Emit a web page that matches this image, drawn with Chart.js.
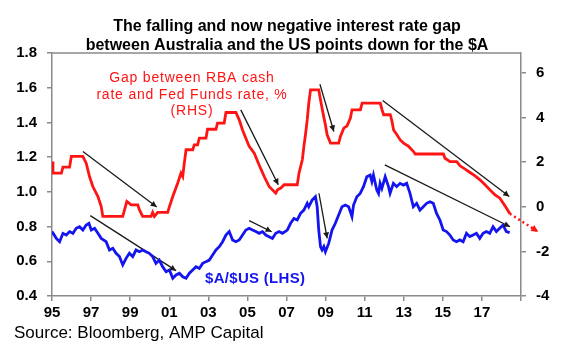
<!DOCTYPE html>
<html>
<head>
<meta charset="utf-8">
<script src="https://cdn.jsdelivr.net/npm/chart.js@4"></script>
<style>
  html, body { margin: 0; padding: 0; background: #fff; }
</style>
</head>
<body>
<canvas id="grafico" width="580" height="352"></canvas>
<script>
// Dados (ano decimal)
// Diferença entre a taxa do RBA e a Fed Funds, % (eixo da direita)
const anosGap = [1995.00, 1995.05, 1995.48, 1995.56, 1995.90, 1995.99, 1996.58, 1996.75, 1996.92, 1997.09,
  1997.35, 1997.52, 1997.60, 1998.62, 1998.83, 1999.05, 1999.39, 1999.47, 1999.64, 2000.07,
  2000.15, 2000.24, 2000.41, 2000.92, 2001.01, 2001.18, 2001.43, 2001.60, 2001.69, 2001.77,
  2001.86, 2002.20, 2002.28, 2002.45, 2002.54, 2002.88, 2002.96, 2003.39, 2003.47, 2003.81,
  2003.90, 2004.41, 2004.58, 2004.75, 2004.92, 2005.09, 2005.35, 2005.60, 2005.86, 2006.11,
  2006.45, 2006.54, 2006.71, 2006.88, 2007.55, 2007.64, 2007.81, 2007.89, 2007.98, 2008.06,
  2008.14, 2008.23, 2008.65, 2008.74, 2008.87, 2008.99, 2009.08, 2009.25, 2009.67, 2009.76,
  2009.93, 2010.10, 2010.27, 2010.35, 2010.78, 2010.87, 2011.80, 2011.89, 2011.97, 2012.31,
  2012.40, 2012.48, 2012.65, 2012.82, 2012.99, 2013.25, 2013.50, 2013.59, 2015.03, 2015.11,
  2015.37, 2015.71, 2015.88, 2016.14, 2016.39, 2016.65, 2016.90, 2017.16, 2017.41, 2017.67,
  2017.92, 2018.09, 2018.26, 2018.43];
const valoresGap = [2.03, 1.51, 1.51, 1.78, 1.78, 2.26, 2.26, 1.96, 1.36, 0.91,
  0.46, 0.01, -0.43, -0.43, 0.24, 0.09, 0.09, -0.13, -0.43, -0.43,
  -0.25, -0.43, -0.25, -0.25, 0.01, 0.46, 1.06, 1.51, 1.36, 1.96,
  2.56, 2.56, 2.78, 2.78, 3.08, 3.08, 3.48, 3.48, 3.75, 3.75,
  4.23, 4.23, 3.90, 3.45, 3.08, 2.71, 2.41, 1.88, 1.36, 0.91,
  0.61, 0.76, 0.84, 0.99, 0.99, 1.51, 2.11, 2.71, 3.30, 3.90,
  4.65, 5.25, 5.25, 4.80, 4.20, 3.68, 3.23, 2.86, 2.86, 3.16,
  3.53, 3.63, 3.98, 4.35, 4.35, 4.65, 4.65, 4.35, 4.13, 4.13,
  3.83, 3.45, 3.23, 3.00, 2.86, 2.71, 2.48, 2.37, 2.37, 2.18,
  2.03, 2.03, 1.84, 1.69, 1.54, 1.39, 1.21, 0.99, 0.76, 0.54,
  0.39, 0.16, -0.06, -0.31];
// projeção pontilhada no fim da série
const anosProjecao = [2018.43, 2019.88];
const valoresProjecao = [-0.31, -1.12];

// $A/$US (eixo da esquerda)
const anosAud = [1995.00, 1995.22, 1995.39, 1995.56, 1995.73, 1995.90, 1996.07, 1996.24, 1996.41, 1996.58,
  1996.75, 1996.89, 1997.01, 1997.18, 1997.35, 1997.52, 1997.77, 1997.94, 1998.11, 1998.28,
  1998.45, 1998.62, 1998.79, 1998.96, 1999.13, 1999.30, 1999.47, 1999.64, 1999.81, 1999.98,
  2000.15, 2000.32, 2000.49, 2000.66, 2000.84, 2001.01, 2001.18, 2001.35, 2001.52, 2001.69,
  2001.86, 2002.03, 2002.20, 2002.37, 2002.54, 2002.71, 2002.88, 2003.05, 2003.22, 2003.39,
  2003.56, 2003.73, 2003.90, 2004.07, 2004.24, 2004.41, 2004.58, 2004.75, 2004.92, 2005.09,
  2005.26, 2005.43, 2005.60, 2005.77, 2005.94, 2006.11, 2006.28, 2006.45, 2006.62, 2006.79,
  2007.04, 2007.21, 2007.38, 2007.55, 2007.72, 2007.89, 2008.06, 2008.14, 2008.31, 2008.48,
  2008.57, 2008.65, 2008.74, 2008.82, 2008.91, 2008.99, 2009.16, 2009.33, 2009.50, 2009.67,
  2009.84, 2010.01, 2010.18, 2010.35, 2010.43, 2010.60, 2010.77, 2010.94, 2011.11, 2011.28,
  2011.37, 2011.45, 2011.62, 2011.71, 2011.79, 2011.88, 2012.05, 2012.22, 2012.30, 2012.47,
  2012.64, 2012.81, 2012.98, 2013.15, 2013.32, 2013.49, 2013.66, 2013.83, 2014.00, 2014.17,
  2014.34, 2014.51, 2014.68, 2014.85, 2015.02, 2015.19, 2015.36, 2015.53, 2015.70, 2015.87,
  2016.04, 2016.21, 2016.38, 2016.55, 2016.72, 2016.89, 2017.06, 2017.23, 2017.40, 2017.57,
  2017.74, 2017.91, 2018.08, 2018.25, 2018.42];
const valoresAud = [0.771, 0.732, 0.713, 0.761, 0.751, 0.771, 0.761, 0.790, 0.799, 0.780,
  0.809, 0.819, 0.780, 0.790, 0.761, 0.732, 0.713, 0.665, 0.675, 0.646,
  0.627, 0.579, 0.617, 0.646, 0.627, 0.665, 0.655, 0.665, 0.655, 0.646,
  0.627, 0.588, 0.607, 0.569, 0.540, 0.550, 0.502, 0.521, 0.531, 0.511,
  0.502, 0.531, 0.550, 0.569, 0.559, 0.588, 0.598, 0.607, 0.636, 0.665,
  0.684, 0.713, 0.751, 0.771, 0.723, 0.713, 0.723, 0.751, 0.780, 0.790,
  0.780, 0.771, 0.761, 0.771, 0.751, 0.742, 0.732, 0.761, 0.771, 0.761,
  0.780, 0.819, 0.847, 0.838, 0.876, 0.895, 0.934, 0.914, 0.953, 0.972,
  0.914, 0.780, 0.684, 0.665, 0.684, 0.655, 0.703, 0.780, 0.819, 0.867,
  0.914, 0.924, 0.914, 0.857, 0.924, 0.972, 0.991, 1.030, 1.087, 1.097,
  1.059, 1.097, 1.011, 0.991, 1.049, 1.020, 1.087, 1.030, 0.991, 1.049,
  1.030, 1.049, 1.039, 1.049, 0.991, 0.914, 0.934, 0.895, 0.914, 0.934,
  0.943, 0.934, 0.876, 0.838, 0.780, 0.771, 0.751, 0.723, 0.713, 0.723,
  0.713, 0.761, 0.742, 0.751, 0.761, 0.732, 0.761, 0.771, 0.761, 0.799,
  0.771, 0.790, 0.809, 0.771, 0.765];

// Setas pretas: [ano inicial, valor inicial, ano final, valor final]
const setasGap = [[1996.58, 2.48, 2000.36, -0.01], [2004.66, 4.35, 2006.58, 0.99],
  [2008.71, 5.50, 2009.42, 3.38], [2011.92, 4.77, 2018.40, 0.46]];
const setasAud = [[1996.96, 0.863, 2001.35, 0.546], [2005.09, 0.834, 2006.24, 0.770],
  [2008.66, 0.992, 2009.08, 0.732], [2012.03, 1.155, 2018.44, 0.799]];

// Textos
const titulo = ['The falling and now negative interest rate gap', 'between Australia and the US points down for the $A'];
const rotuloGap = ['Gap between RBA cash', 'rate and Fed Funds rate, %', '(RHS)'];
const rotuloAud = '$A/$US (LHS)';
const fonte = 'Source: Bloomberg, AMP Capital';
const ticksAnos = [1995, 1997, 1999, 2001, 2003, 2005, 2007, 2009, 2011, 2013, 2015, 2017];

const FAMILIA = '"Liberation Sans", Arial, sans-serif';
const CINZA = '#8a8a8a';

function pares(xs, ys) {
  return xs.map((x, i) => ({ x: x, y: ys[i] }));
}

// Conjuntos de dados das setas
let datasetsSetas = [];
setasGap.forEach(s => datasetsSetas.push({
  data: [{ x: s[0], y: s[1] }, { x: s[2], y: s[3] }],
  yAxisID: 'y2', borderColor: '#1a1a1a', borderWidth: 1.3, pointRadius: 0, seta: 6
}));
setasAud.forEach(s => datasetsSetas.push({
  data: [{ x: s[0], y: s[1] }, { x: s[2], y: s[3] }],
  yAxisID: 'y', borderColor: '#1a1a1a', borderWidth: 1.3, pointRadius: 0, seta: 6
}));

// Plugin das pontas de seta
const pontasPlugin = {
  id: 'pontas',
  afterDatasetsDraw(chart) {
    const ctx = chart.ctx;
    chart.data.datasets.forEach((ds, i) => {
      if (!ds.seta) return;
      const pts = chart.getDatasetMeta(i).data;
      const a = pts[pts.length - 2], b = pts[pts.length - 1];
      const ang = Math.atan2(b.y - a.y, b.x - a.x);
      ctx.save();
      ctx.fillStyle = ds.borderColor;
      ctx.translate(b.x, b.y);
      ctx.rotate(ang);
      ctx.beginPath();
      ctx.moveTo(0, 0);
      ctx.lineTo(-ds.seta, -ds.seta * 0.5);
      ctx.lineTo(-ds.seta, ds.seta * 0.5);
      ctx.closePath();
      ctx.fill();
      ctx.restore();
    });
  }
};

// Plugin dos textos e da borda superior
const textosPlugin = {
  id: 'textos',
  afterDraw(chart) {
    const ctx = chart.ctx;
    const area = chart.chartArea;
    ctx.save();
    ctx.strokeStyle = CINZA;
    ctx.lineWidth = 1.5;
    ctx.beginPath();
    ctx.moveTo(area.left, area.top);
    ctx.lineTo(area.right, area.top);
    ctx.stroke();

    ctx.textBaseline = 'middle';
    ctx.fillStyle = '#000';
    ctx.textAlign = 'center';
    ctx.font = 'bold 16px ' + FAMILIA;
    ctx.fillText(titulo[0], 287, 27);
    ctx.fillText(titulo[1], 287, 46);

    ctx.fillStyle = '#ff1414';
    ctx.font = '14px ' + FAMILIA;
    ctx.letterSpacing = '0.8px';
    ctx.fillText(rotuloGap[0], 192, 78);
    ctx.fillText(rotuloGap[1], 192, 95);
    ctx.fillText(rotuloGap[2], 192, 111);

    ctx.letterSpacing = '0.3px';
    ctx.textAlign = 'left';
    ctx.fillStyle = '#1414f0';
    ctx.font = 'bold 15px ' + FAMILIA;
    ctx.fillText(rotuloAud, 205, 279);

    ctx.letterSpacing = '0px';
    ctx.fillStyle = '#000';
    ctx.font = '17px ' + FAMILIA;
    ctx.fillText(fonte, 14, 333);
    ctx.restore();
  }
};

const fonteTicks = { family: FAMILIA, size: 15, weight: 'bold' };

const config = {
  type: 'line',
  data: {
    datasets: [
      {
        data: pares(anosAud, valoresAud), yAxisID: 'y',
        borderColor: '#1414f0', borderWidth: 2.8, pointRadius: 0, tension: 0
      },
      {
        data: pares(anosGap, valoresGap), yAxisID: 'y2',
        borderColor: '#ff1414', borderWidth: 2.8, pointRadius: 0, tension: 0
      },
      {
        data: pares(anosProjecao, valoresProjecao), yAxisID: 'y2',
        borderColor: '#ff1414', borderWidth: 2.5, borderDash: [2, 3], pointRadius: 0,
        clip: false, seta: 7
      }
    ].concat(datasetsSetas)
  },
  options: {
    responsive: false,
    animation: false,
    layout: { padding: { top: 53, left: 0, right: 0, bottom: 26 } },
    plugins: { legend: { display: false }, tooltip: { enabled: false }, title: { display: false } },
    scales: {
      x: {
        type: 'linear', min: 1995, max: 2019,
        afterFit: s => { s.height = 30; },
        afterBuildTicks: s => { s.ticks = ticksAnos.concat([2019]).map(v => ({ value: v })); },
        border: { display: true, color: CINZA, width: 1.5 },
        grid: { drawOnChartArea: false, drawTicks: true, tickLength: 5, color: CINZA, lineWidth: 1.5 },
        ticks: {
          autoSkip: false, maxRotation: 0, padding: 3, color: '#000', font: fonteTicks,
          callback: v => (ticksAnos.includes(v) ? String(v).slice(2) : '')
        }
      },
      y: {
        position: 'left', min: 0.4, max: 1.8,
        afterFit: s => { s.width = 52; },
        border: { display: true, color: CINZA, width: 1.5 },
        grid: { drawOnChartArea: false, drawTicks: true, tickLength: 5, color: CINZA, lineWidth: 1.5 },
        ticks: { stepSize: 0.2, padding: 10, color: '#000', font: fonteTicks, callback: v => v.toFixed(1) }
      },
      y2: {
        position: 'right', min: -4, max: 6.9,
        afterFit: s => { s.width = 59; },
        border: { display: true, color: CINZA, width: 1.5 },
        grid: { drawOnChartArea: false, drawTicks: true, tickLength: 5, color: CINZA, lineWidth: 1.5 },
        ticks: { stepSize: 2, includeBounds: false, padding: 10, color: '#000', font: fonteTicks }
      }
    }
  },
  plugins: [pontasPlugin, textosPlugin]
};

let grafico = new Chart(document.getElementById('grafico'), config);
</script>
</body>
</html>
